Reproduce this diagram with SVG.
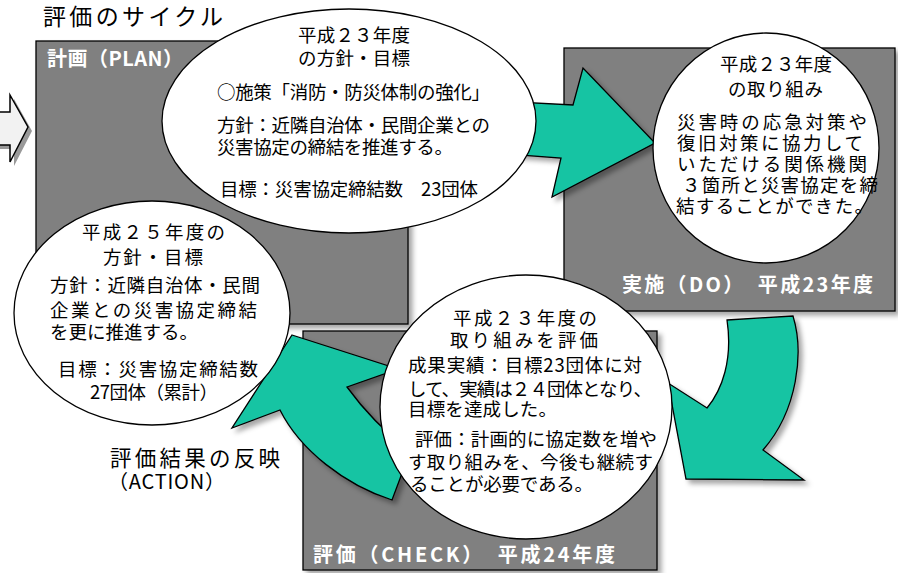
<svg xmlns="http://www.w3.org/2000/svg" width="898" height="573" viewBox="0 0 898 573">
<defs>
<filter id="sh" x="-10%" y="-10%" width="130%" height="130%">
<feDropShadow dx="4" dy="4" stdDeviation="2.5" flood-color="#000" flood-opacity="0.35"/>
</filter>
<style>
.box{fill:#808080;stroke:#000;stroke-width:1.3;filter:url(#sh)}
.bub{fill:#fff;stroke:#000;stroke-width:1.3}
.arr{fill:#17c4a3;stroke:#000;stroke-width:1.3;stroke-linejoin:miter;filter:url(#sh)}
text{font-family:"Noto Sans CJK JP","Noto Sans",sans-serif;fill:#000}
.t{font-size:18.5px}
.lbl{font-size:20px;font-weight:bold;fill:#fff}
</style>
</defs>
<rect width="898" height="573" fill="#fff"/>

<g id="title"><text x="43" y="25" font-size="23" textLength="180" lengthAdjust="spacing">評価のサイクル</text></g>

<g id="in-arrow">
<path d="M-5,116 L14,116 L14,99 L32,131 L14,166 L14,149 L-5,149 Z" fill="#999" stroke="none"/>
<path d="M-5,112 L10,112 L10,95 L28,127 L10,162 L10,145 L-5,145 Z" fill="#f2f2f2" stroke="#000" stroke-width="1.5"/>
</g>

<g id="plan">
<rect class="box" x="36" y="41" width="372" height="283"/>
<text class="lbl" x="47" y="66" textLength="136" lengthAdjust="spacing">計画（PLAN）</text>
</g>
<g id="do">
<rect class="box" x="564" y="48" width="331" height="263"/>
<text class="lbl" x="622" y="292" textLength="251" lengthAdjust="spacing">実施（DO）　平成23年度</text>
</g>
<g id="check">
<rect class="box" x="303" y="331" width="354" height="239"/>
<text class="lbl" x="313" y="562" textLength="302" lengthAdjust="spacing">評価（CHECK）　平成24年度</text>
</g>

<g id="connectors">
<path class="arr" d="M480,100 L573,105 L583,68 L655,143 L552,197 L561,158 L480,152 Z"/>
<path class="arr" d="M727,320 L793,316 C804,352 798,410 763,450 L804,480 L686,479 L668,383 L707,408 C722,390 733,360 727,320 Z"/>
<path class="arr" d="M292,335 L398,369 L347,387 C360,405 380,428 410,452 L392,500 C345,485 300,450 280,410 L232,428 Z"/>
</g>

<g id="plan-bubble">
<ellipse class="bub" cx="349" cy="121" rx="187" ry="112"/>
<text class="t" x="298" y="42" textLength="112" lengthAdjust="spacing">平成２３年度</text>
<text class="t" x="298" y="65" textLength="112" lengthAdjust="spacing">の方針・目標</text>
<text class="t" x="217" y="99" textLength="273" lengthAdjust="spacing">○施策「消防・防災体制の強化」</text>
<text class="t" x="217" y="132" textLength="273" lengthAdjust="spacing">方針：近隣自治体・民間企業との</text>
<text class="t" x="217" y="154" textLength="236" lengthAdjust="spacing">災害協定の締結を推進する。</text>
<text class="t" x="220" y="196" textLength="258" lengthAdjust="spacing">目標：災害協定締結数　23団体</text>
</g>

<g id="do-bubble">
<ellipse class="bub" cx="766" cy="148" rx="113" ry="115"/>
<text class="t" x="720" y="71" textLength="112" lengthAdjust="spacing">平成２３年度</text>
<text class="t" x="728" y="96" textLength="95" lengthAdjust="spacing">の取り組み</text>
<text class="t" font-size="20.5" x="677" y="129" textLength="190" lengthAdjust="spacing">災害時の応急対策や</text>
<text class="t" font-size="20.5" x="677" y="150" textLength="186" lengthAdjust="spacing">復旧対策に協力して</text>
<text class="t" font-size="20.5" x="677" y="171" textLength="190" lengthAdjust="spacing">いただける関係機関</text>
<text class="t" font-size="20.5" x="682" y="192" textLength="196" lengthAdjust="spacing">３箇所と災害協定を締</text>
<text class="t" font-size="20.5" x="676" y="213" textLength="197" lengthAdjust="spacing">結することができた。</text>
</g>

<g id="action-bubble">
<ellipse class="bub" cx="152" cy="313" rx="138" ry="112"/>
<text class="t" x="82" y="239" textLength="143" lengthAdjust="spacing">平成２５年度の</text>
<text class="t" x="103" y="264" textLength="100" lengthAdjust="spacing">方針・目標</text>
<text class="t" x="50" y="292" textLength="210" lengthAdjust="spacing">方針：近隣自治体・民間</text>
<text class="t" x="50" y="317" textLength="207" lengthAdjust="spacing">企業との災害協定締結</text>
<text class="t" x="50" y="339" textLength="148" lengthAdjust="spacing">を更に推進する。</text>
<text class="t" x="58" y="376" textLength="200" lengthAdjust="spacing">目標：災害協定締結数</text>
<text class="t" x="90" y="399" textLength="128" lengthAdjust="spacing">27団体（累計）</text>
</g>

<g id="check-bubble">
<ellipse class="bub" cx="526" cy="407" rx="146" ry="132"/>
<text class="t" x="453" y="325" textLength="144" lengthAdjust="spacing">平成２３年度の</text>
<text class="t" x="450" y="347" textLength="148" lengthAdjust="spacing">取り組みを評価</text>
<text class="t" x="408" y="372" textLength="234" lengthAdjust="spacing">成果実績：目標23団体に対</text>
<text class="t" x="408" y="396" textLength="244" lengthAdjust="spacing">して、実績は２４団体となり、</text>
<text class="t" x="408" y="416" textLength="149" lengthAdjust="spacing">目標を達成した。</text>
<text class="t" x="415" y="446" textLength="242" lengthAdjust="spacing">評価：計画的に協定数を増や</text>
<text class="t" x="408" y="469" textLength="245" lengthAdjust="spacing">す取り組みを、今後も継続す</text>
<text class="t" x="410" y="491" textLength="183" lengthAdjust="spacing">ることが必要である。</text>
</g>

<g id="action-label">
<text x="110" y="466" font-size="21.5" textLength="170" lengthAdjust="spacing">評価結果の反映</text>
<text x="108" y="489" font-size="20" textLength="117" lengthAdjust="spacing">（ACTION）</text>
</g>
</svg>
